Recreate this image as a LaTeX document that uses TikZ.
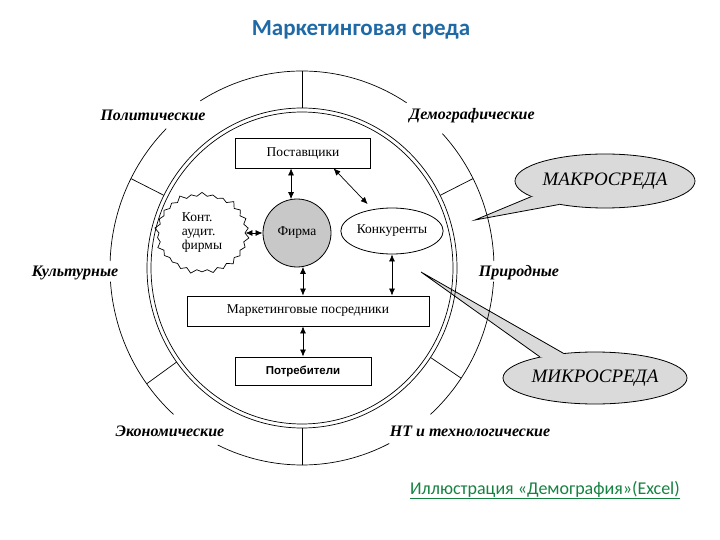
\documentclass[tikz,border=0pt]{standalone}
\usepackage{fontspec}
\setmainfont{Liberation Serif}
\newfontfamily\arialfont{Liberation Sans}
\newfontfamily\calibrifont{Carlito}
\usepackage{xcolor}
\usetikzlibrary{shapes.geometric, shapes.symbols, arrows.meta, positioning, calc}
\definecolor{titleblue}{RGB}{31, 106, 166}
\definecolor{linkgreen}{RGB}{22, 130, 66}
\definecolor{calloutgray}{RGB}{218, 218, 218}
\definecolor{firmgray}{RGB}{200, 200, 200}

\tikzset{
  factor/.style={font=\fontsize{16}{16}\selectfont\bfseries\itshape},
  unitbox/.style={draw, line width=0.8pt, minimum height=30pt, inner sep=2pt,
                  font=\fontsize{13.5}{14}\selectfont},
  biarrow/.style={{Latex[length=7pt,width=6pt]}-{Latex[length=7pt,width=6pt]}, line width=0.7pt},
  callout/.style={ellipse, draw, fill=calloutgray, line width=0.8pt, inner sep=0pt,
                  font=\fontsize{19}{19}\selectfont\itshape}
}

\begin{document}
\begin{tikzpicture}[x=1pt, y=-1pt]
    \useasboundingbox (0,0) rectangle (720,540);
    \node[font=\calibrifont\fontsize{23}{23}\selectfont\bfseries, text=titleblue] (title) at (361,30) {Маркетинговая среда};

    % callouts
    \node[callout, minimum width=180pt, minimum height=54pt] (macro) at (605,181) {МАКРОСРЕДА};
    \node[callout, minimum width=184pt, minimum height=52pt] (micro) at (595,378) {МИКРОСРЕДА};
    \coordinate (macrotip) at (475,220);
    \coordinate (microtip) at (421,272);
    \fill[calloutgray] (macro.192) -- (macrotip) -- (macro.207) -- ($(macro.center)!0.8!(macro.200)$) -- cycle;
    \draw[line width=0.8pt] (macro.192) -- (macrotip) -- (macro.207);
    \fill[calloutgray] (micro.159) -- (microtip) -- (micro.142) -- ($(micro.center)!0.8!(micro.150)$) -- cycle;
    \draw[line width=0.8pt] (micro.159) -- (microtip) -- (micro.142);

    % rings
    \coordinate (ctr) at (302,268);
    \draw[line width=0.7pt] (ctr) ellipse [x radius=155, y radius=160];
    \draw[line width=0.7pt] (ctr) ellipse [x radius=151, y radius=156];
    \foreach \s/\e in {-57/-122, -135/-178, -184/-228, -244/-297, 48/4, -2/-43}
        \draw[line width=0.7pt] (ctr) ++(\s:192 and 197) arc [start angle=\s, end angle=\e, x radius=192, y radius=197];
    \foreach \t in {-90, -153, -27, 144, 34, 90}
        \draw[line width=0.7pt] ($(ctr)+(\t:192 and 197)$) -- ($(ctr)+(\t:155 and 160)$);

    \node[factor] (polit) at (153,115) {Политические};
    \node[factor] (demo) at (472,116) {Демографические};
    \node[factor] (cult) at (75,273) {Культурные};
    \node[factor] (nature) at (519,273) {Природные};
    \node[factor] (econ) at (170,431) {Экономические};
    \node[factor] (tech) at (470,431) {НТ и технологические};

    % inner units
    \node[unitbox, minimum width=135pt] (suppliers) at (303,153) {Поставщики};
    \node[circle, draw, fill=firmgray, line width=0.8pt, minimum size=68pt, font=\fontsize{13.5}{14}\selectfont] (firm) at (297,233) {Фирма};
    \node[starburst, draw, line width=0.7pt, starburst points=26, starburst point height=5pt,
          minimum width=96pt, minimum height=84pt, inner sep=1pt, align=left,
          font=\fontsize{13.5}{14}\selectfont] (audit) at (202,233) {Конт.\\аудит.\\фирмы};
    \node[ellipse, draw, line width=0.8pt, minimum width=98pt, minimum height=46pt, inner sep=1pt,
          font=\fontsize{13.5}{14}\selectfont] (rivals) at (392,231) {Конкуренты};
    \node[unitbox, minimum width=242pt] (intermed) at (308,311) {Маркетинговые посредники};
    \node[unitbox, minimum width=136pt, minimum height=28pt, font=\arialfont\bfseries\fontsize{11.5}{12}\selectfont] (consumers) at (303,371) {Потребители};

    \draw[biarrow] (suppliers.south -| firm.100) -- (firm.100);
    \draw[biarrow] ($(suppliers.south)!0.45!(suppliers.south east)$) -- ([shift={(-6pt,5pt)}]rivals.130);
    \draw[biarrow] (audit.east |- firm.west) -- (firm.west);
    \draw[biarrow] (firm.-80) -- (firm.-80 |- intermed.north);
    \draw[biarrow] (rivals.south) -- (rivals.south |- intermed.north);
    \draw[biarrow] (intermed.south -| consumers.north) -- (consumers.north);

    \node[font=\calibrifont\fontsize{18}{18}\selectfont, text=linkgreen] (link) at (545,490) {\underline{Иллюстрация «Демография»(Excel)}};
\end{tikzpicture}
\end{document}
